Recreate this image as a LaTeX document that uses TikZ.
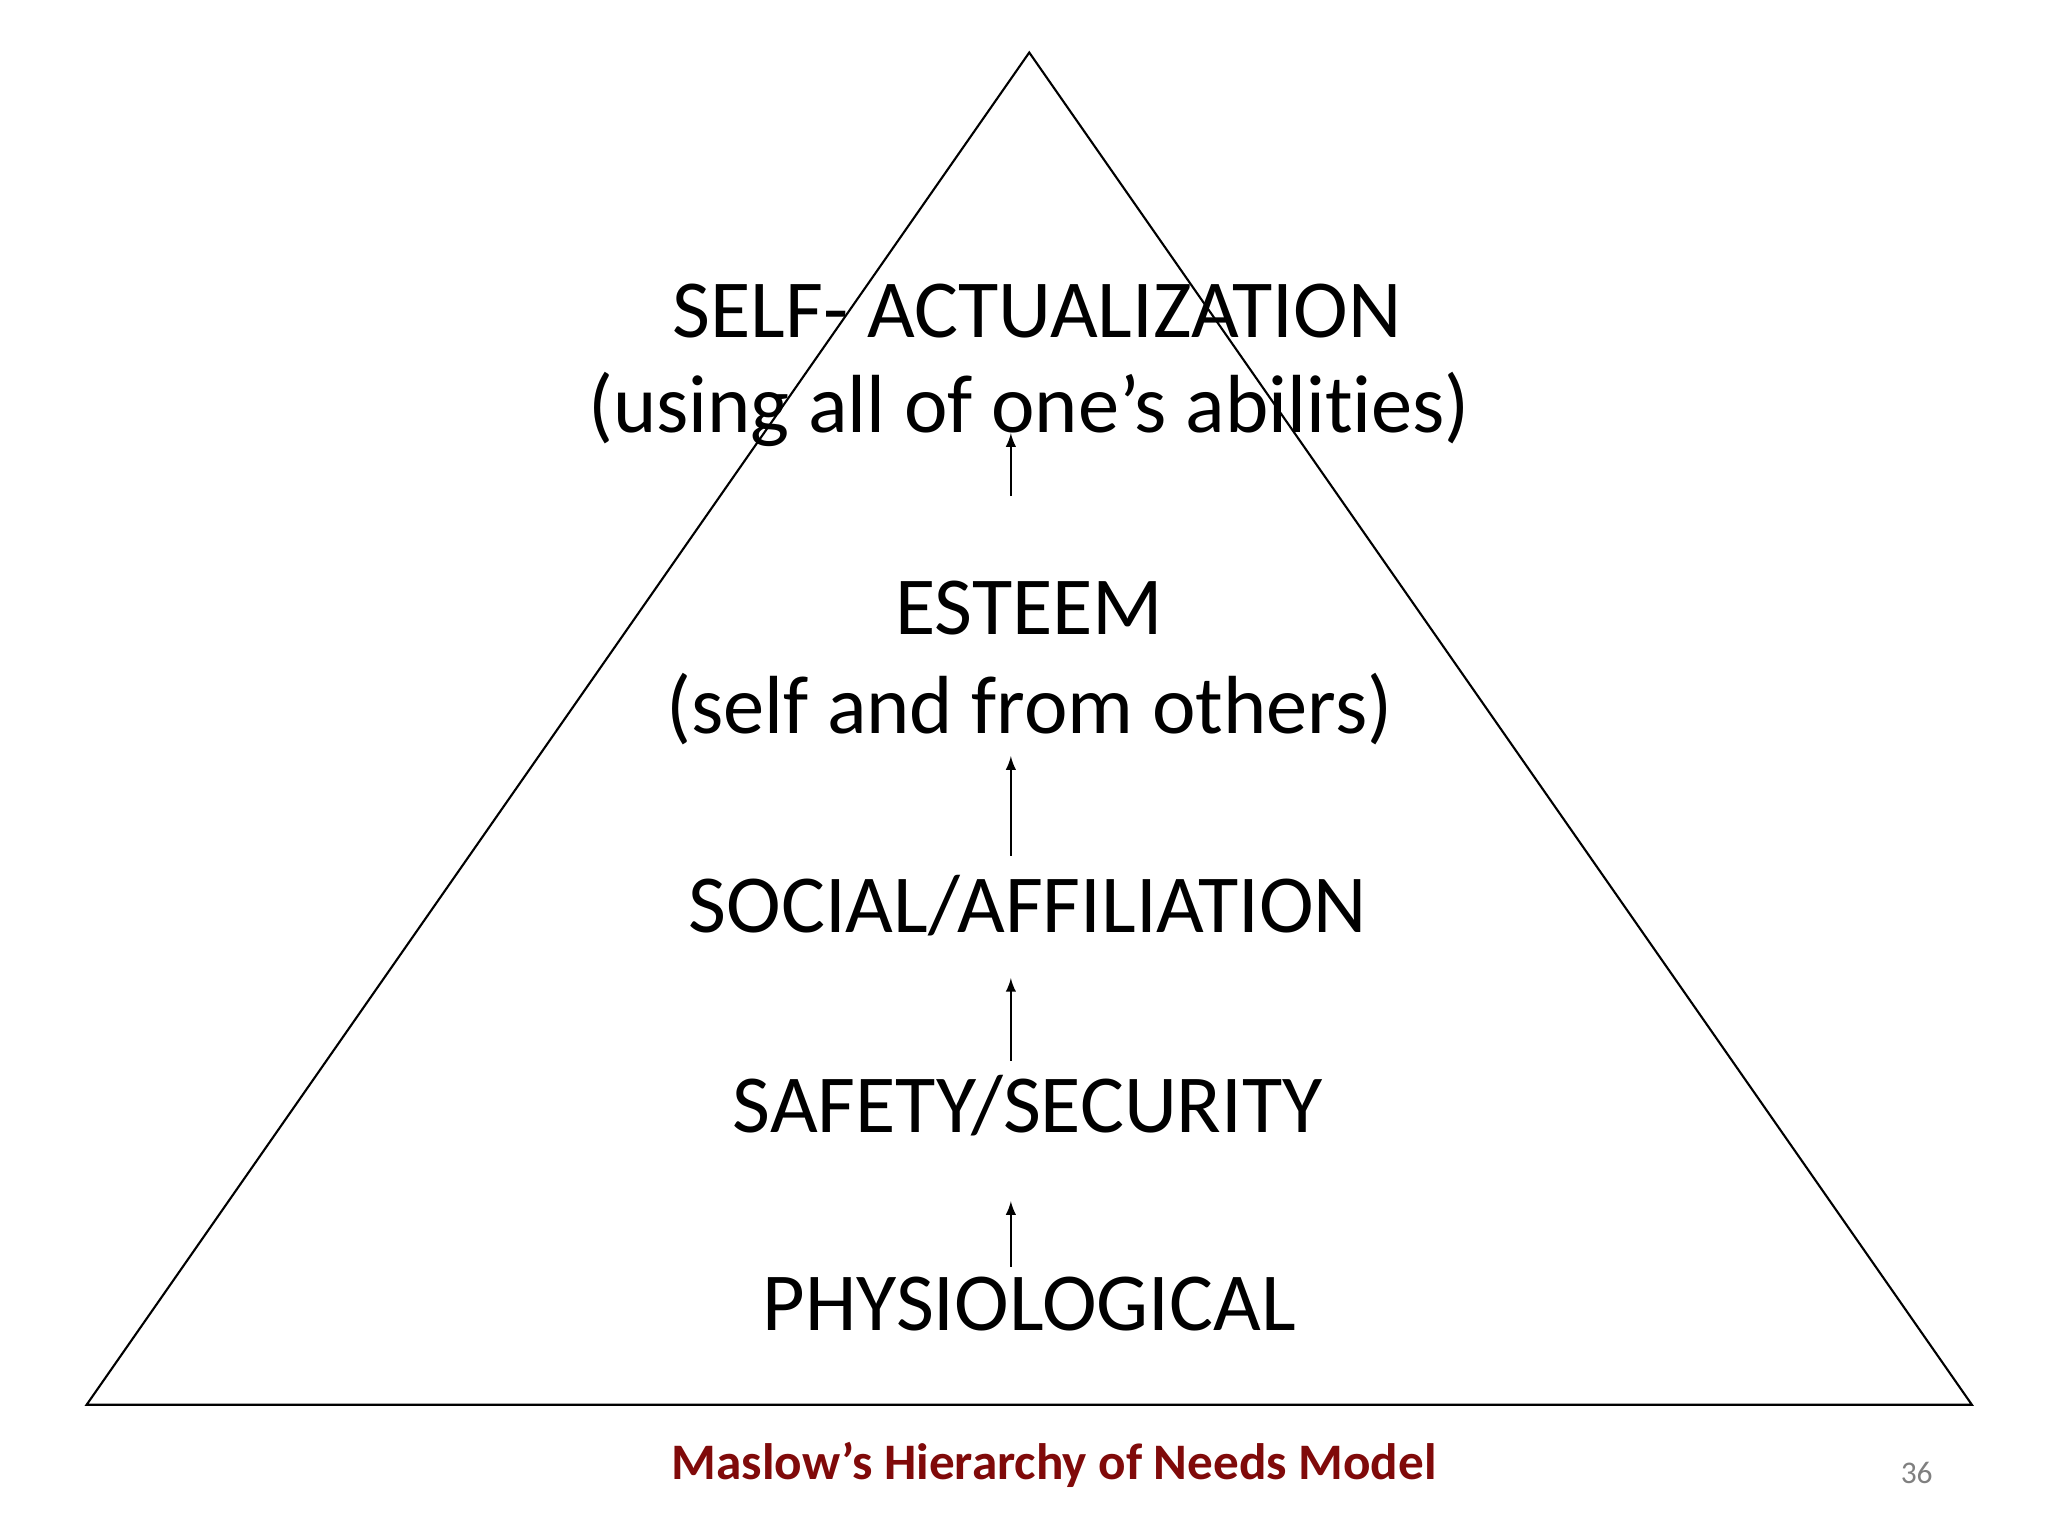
\documentclass[tikz,border=0pt]{standalone}
\usepackage{fontspec}
\setmainfont{Carlito}[Ligatures=NoCommon]
\definecolor{capred}{RGB}{128,10,10}
\begin{document}
\begin{tikzpicture}[x=0.5pt,y=-0.5pt,
  lvl/.style={font=\fontsize{31.4}{38}\selectfont, inner sep=0pt, align=center},
  up/.style={-latex, line width=0.8pt}]
\useasboundingbox (0,0) rectangle (1560,1170);
\coordinate (apex) at (784,40);
\coordinate (bl) at (66,1070);
\coordinate (br) at (1502,1070);
\draw[line width=0.8pt] (apex) -- (br) -- (bl) -- cycle;
\node[lvl] (sa) at (790,237) {SELF- ACTUALIZATION};
\node[lvl] (sa2) at (784,312) {(using all of one’s abilities)};
\node[lvl] (es) at (784,463) {ESTEEM};
\node[lvl] (es2) at (784,540) {(self and from others)};
\node[lvl] (so) at (783,690) {SOCIAL/AFFILIATION};
\node[lvl] (sf) at (783,842) {SAFETY/SECURITY};
\node[lvl] (ph) at (784,993) {PHYSIOLOGICAL};
\coordinate (a1s) at (770,378); \coordinate (a1e) at (770,330);
\coordinate (a2s) at (770,652); \coordinate (a2e) at (770,576);
\coordinate (a3s) at (770,808); \coordinate (a3e) at (770,745);
\coordinate (a4s) at (770,965); \coordinate (a4e) at (770,915);
\draw[up] (a1s) -- (a1e);
\draw[up] (a2s) -- (a2e);
\draw[up] (a3s) -- (a3e);
\draw[up] (a4s) -- (a4e);
\node[font=\fontsize{19.5}{23}\selectfont\bfseries, text=capred] (cap) at (803,1116) {Maslow’s Hierarchy of Needs Model};
\node[font=\fontsize{12}{14}\selectfont, text=gray] (pg) at (1460,1122) {36};
\end{tikzpicture}
\end{document}
